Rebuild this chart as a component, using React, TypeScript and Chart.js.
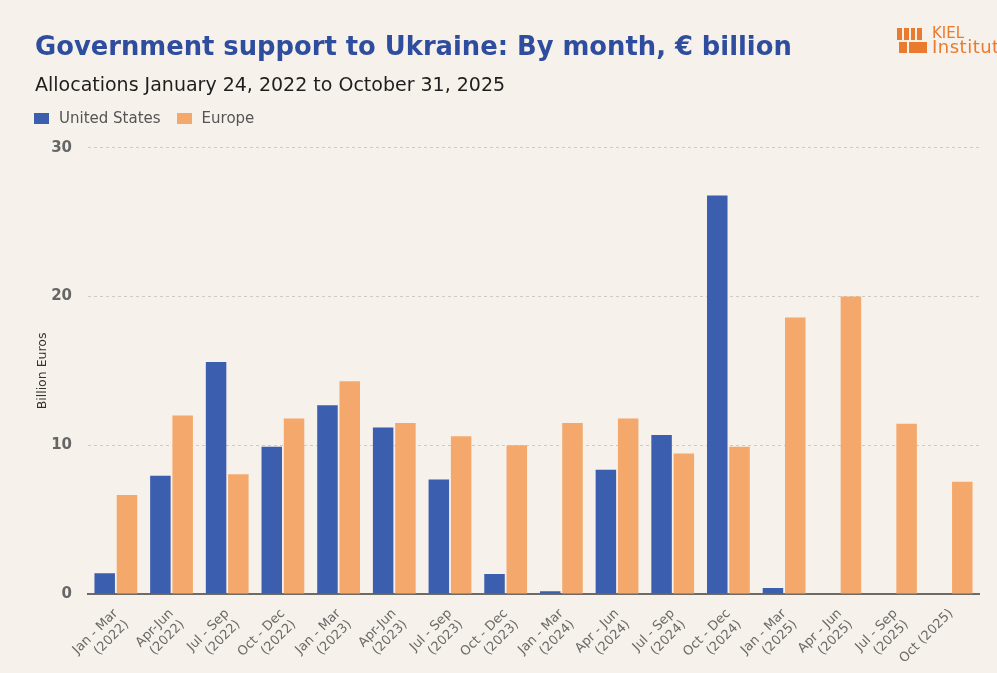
import React, { useEffect, useRef } from "react";
import { Chart, registerables } from "chart.js";

Chart.register(...registerables);

const categories: (string | string[])[] = [
  ["Jan - Mar", "(2022)"],
  ["Apr-Jun", "(2022)"],
  ["Jul - Sep", "(2022)"],
  ["Oct - Dec", "(2022)"],
  ["Jan - Mar", "(2023)"],
  ["Apr-Jun", "(2023)"],
  ["Jul - Sep", "(2023)"],
  ["Oct - Dec", "(2023)"],
  ["Jan - Mar", "(2024)"],
  ["Apr - Jun", "(2024)"],
  ["Jul - Sep", "(2024)"],
  ["Oct - Dec", "(2024)"],
  ["Jan - Mar", "(2025)"],
  ["Apr - Jun", "(2025)"],
  ["Jul - Sep", "(2025)"],
  "Oct (2025)",
];

const unitedStates = [1.4, 7.95, 15.6, 9.9, 12.7, 11.2, 7.7, 1.35, 0.18, 8.35, 10.7, 26.8, 0.4, 0, 0, 0];
const europe = [6.65, 12.0, 8.05, 11.8, 14.3, 11.5, 10.6, 10.0, 11.5, 11.8, 9.45, 9.9, 18.6, 20.0, 11.45, 7.55];

const yTicks = [0, 10, 20, 30];

const seriesNames = ["United States", "Europe"];
const seriesColors = ["#3b5eae", "#f4a86c"];

const FONT = "'DejaVu Sans', 'Liberation Sans', Arial, sans-serif";
const BG = "#f6f1ea";
const LOGO = "#ea7a2e";

export default function App() {
  const ref = useRef<HTMLCanvasElement | null>(null);

  useEffect(() => {
    if (!ref.current) return;
    const chart = new Chart(ref.current, {
      type: "bar",
      data: {
        labels: categories,
        datasets: [
          {
            label: seriesNames[0],
            data: unitedStates,
            backgroundColor: seriesColors[0],
            categoryPercentage: 0.8,
            barPercentage: 0.92,
          },
          {
            label: seriesNames[1],
            data: europe,
            backgroundColor: seriesColors[1],
            categoryPercentage: 0.8,
            barPercentage: 0.92,
          },
        ],
      },
      options: {
        animation: false,
        responsive: false,
        maintainAspectRatio: false,
        layout: { padding: { left: 35, right: 18, top: 0, bottom: 0 } },
        plugins: {
          tooltip: { enabled: false },
          legend: { display: false },
          title: {
            display: true,
            text: "Government support to Ukraine: By month, € billion",
            align: "start",
            color: "#2f4d9e",
            font: { family: FONT, size: 25.8, weight: "bold" },
            padding: { top: 32.5, bottom: 11 },
          },
          subtitle: {
            display: true,
            text: "Allocations January 24, 2022 to October 31, 2025",
            align: "start",
            color: "#1e1e1e",
            font: { family: FONT, size: 19 },
            padding: { top: 0, bottom: 50.6 },
          },
        },
        scales: {
          x: {
            grid: { display: false },
            border: { display: true, color: "#6e6a66", width: 2 },
            ticks: {
              color: "#6a6a6a",
              font: { family: FONT, size: 13 },
              maxRotation: 45,
              minRotation: 45,
              autoSkip: false,
              padding: 4,
            },
            afterFit: (scale: any) => {
              scale.height = 79;
            },
          },
          y: {
            min: 0,
            max: 30,
            afterBuildTicks: (scale: any) => {
              scale.ticks = yTicks.map((v) => ({ value: v }));
            },
            grid: {
              color: (ctx: any) => (ctx.tick && ctx.tick.value === 0 ? "rgba(0,0,0,0)" : "#cfcac3"),
              drawTicks: false,
              lineWidth: 1,
            },
            border: { display: false, dash: [3, 3] },
            ticks: {
              color: "#666666",
              font: { family: FONT, size: 15, weight: "bold" },
              padding: 16,
            },
            title: {
              display: true,
              text: "Billion Euros",
              color: "#333333",
              font: { family: FONT, size: 12.5 },
              padding: 0,
            },
            afterFit: (scale: any) => {
              scale.width = 53;
            },
          },
        },
      },
    });
    return () => chart.destroy();
  }, []);

  return (
    <div style={{ position: "fixed", left: 0, top: 0, width: 997, height: 673, background: BG, overflow: "hidden" }}>
      <canvas ref={ref} width={997} height={673} style={{ display: "block", width: 997, height: 673 }} />
      <div style={{ position: "absolute", left: 34, top: 108, display: "flex", alignItems: "center", fontFamily: FONT, fontSize: 15, color: "#555555", height: 20 }}>
        {seriesNames.map((n, i) => (
          <div key={n} style={{ display: "flex", alignItems: "center", marginRight: 16 }}>
            <div style={{ width: 15, height: 11, background: seriesColors[i], marginRight: 10 }} />
            <span>{n}</span>
          </div>
        ))}
      </div>
      <div style={{ position: "absolute", left: 897, top: 27, display: "flex", alignItems: "flex-start" }}>
        <div style={{ position: "relative", width: 31, height: 26 }}>
          <div style={{ position: "absolute", left: 0, top: 1, width: 5, height: 12, background: LOGO }} />
          <div style={{ position: "absolute", left: 7, top: 1, width: 5, height: 12, background: LOGO }} />
          <div style={{ position: "absolute", left: 14, top: 1, width: 4, height: 12, background: LOGO }} />
          <div style={{ position: "absolute", left: 20, top: 1, width: 5, height: 12, background: LOGO }} />
          <div style={{ position: "absolute", left: 2, top: 15, width: 8, height: 11, background: LOGO }} />
          <div style={{ position: "absolute", left: 12, top: 15, width: 18, height: 11, background: LOGO }} />
        </div>
        <div style={{ marginLeft: 4, fontFamily: FONT, color: LOGO, whiteSpace: "nowrap" }}>
          <div style={{ fontSize: 15, lineHeight: "13px" }}>KIEL</div>
          <div style={{ fontSize: 18, lineHeight: "14px", letterSpacing: 0.5 }}>Institute</div>
        </div>
      </div>
    </div>
  );
}
